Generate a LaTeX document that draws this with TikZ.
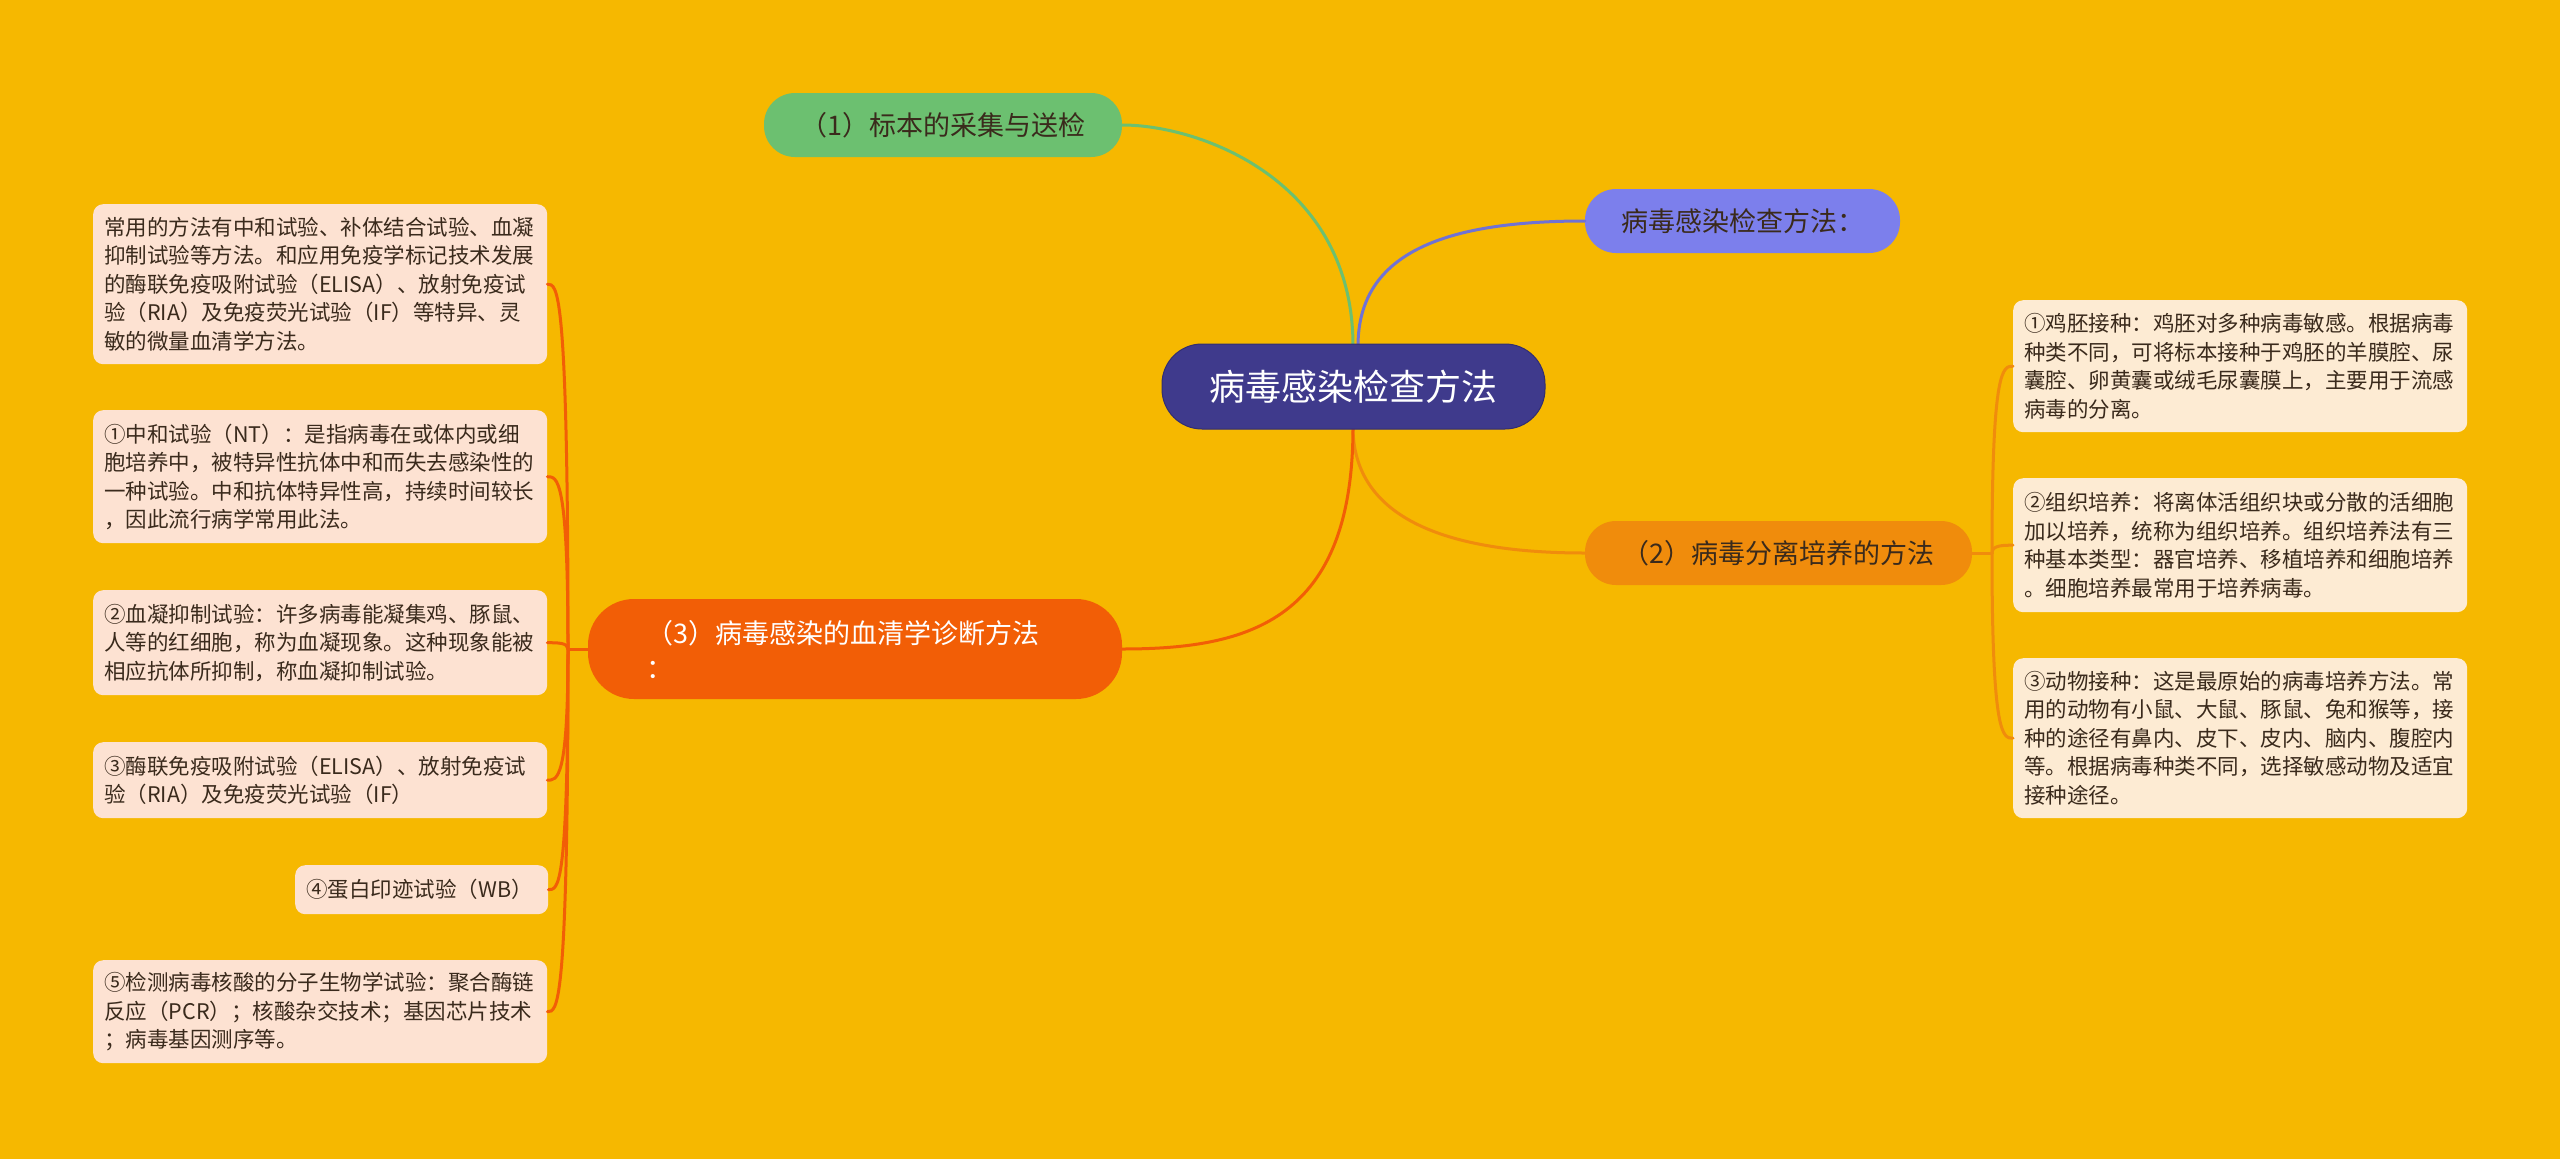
\documentclass[tikz,border=0pt]{standalone}
\usepackage{fontspec}
\setmainfont{Noto Sans CJK SC}
\usetikzlibrary{calc}
\definecolor{bg}{HTML}{F6B800}
\definecolor{cfill}{HTML}{3F3A8C}
\definecolor{gfill}{HTML}{6CC070}
\definecolor{pfill}{HTML}{7C7FEC}
\definecolor{ofill}{HTML}{F08C0C}
\definecolor{rfill}{HTML}{F25E06}
\definecolor{lfill}{HTML}{FDE2D2}
\definecolor{rlfill}{HTML}{FDEBD3}
\definecolor{tdark}{HTML}{3A2A1C}
\begin{document}
\begin{tikzpicture}[x=1pt,y=-1pt,
  topic/.style={rounded corners=31pt, minimum height=64pt, inner sep=0pt, font=\fontsize{27}{35}\selectfont, text=tdark},
  centre/.style={fill=cfill, draw=cfill!80!black, line width=1pt, rounded corners=40pt, minimum width=383pt, minimum height=85pt, inner sep=0pt, text=white, font=\fontsize{36}{40}\selectfont},
  leafbox/.style={rounded corners=10pt, anchor=north west, inner xsep=11pt, inner ysep=0pt, align=left, font=\fontsize{21.5}{28.5}\selectfont, text=tdark},
  leafl/.style={leafbox, fill=lfill},
  leafr/.style={leafbox, fill=rlfill},
  conn/.style={line width=3pt, line cap=round}
]
\useasboundingbox (0,0) rectangle (2560,1159);
\fill[bg] (0,0) rectangle (2560,1159);

\coordinate (ctop) at (1353,346);
\coordinate (cbot) at (1353,427);
\coordinate (ptop) at (1358,346);

% topic nodes
\node[topic, fill=gfill, minimum width=358pt] (n1) at (943,125) {（1）标本的采集与送检};
\node[topic, fill=pfill, minimum width=315pt] (np) at (1742.5,221) {病毒感染检查方法：};
\node[topic, fill=ofill, minimum width=387pt] (n2) at (1778.5,553) {（2）病毒分离培养的方法};
\node[topic, fill=rfill, rounded corners=46pt, minimum width=534pt, minimum height=100pt] (n3) at (855,649) {};
\node[font=\fontsize{27}{35}\selectfont, text=white, align=left, inner sep=0pt] (n3t) at (843,649) {（3）病毒感染的血清学诊断方法\\：};

% left leaves
\node[leafl, text width=432pt, minimum height=160pt] (l0) at (93,204) {常用的方法有中和试验、补体结合试验、血凝\\抑制试验等方法。和应用免疫学标记技术发展\\的酶联免疫吸附试验（ELISA）、放射免疫试\\验（RIA）及免疫荧光试验（IF）等特异、灵\\敏的微量血清学方法。};
\node[leafl, text width=432pt, minimum height=133pt] (l1) at (93,410) {①中和试验（NT）：是指病毒在或体内或细\\胞培养中，被特异性抗体中和而失去感染性的\\一种试验。中和抗体特异性高，持续时间较长\\，因此流行病学常用此法。};
\node[leafl, text width=432pt, minimum height=105pt] (l2) at (93,590) {②血凝抑制试验：许多病毒能凝集鸡、豚鼠、\\人等的红细胞，称为血凝现象。这种现象能被\\相应抗体所抑制，称血凝抑制试验。};
\node[leafl, text width=432pt, minimum height=76pt] (l3) at (93,742) {③酶联免疫吸附试验（ELISA）、放射免疫试\\验（RIA）及免疫荧光试验（IF）};
\node[leafl, text width=231pt, minimum height=49pt] (l4) at (295,865) {④蛋白印迹试验（WB）};
\node[leafl, text width=432pt, minimum height=103pt] (l5) at (93,960) {⑤检测病毒核酸的分子生物学试验：聚合酶链\\反应（PCR）；核酸杂交技术；基因芯片技术\\；病毒基因测序等。};

% right leaves
\node[leafr, text width=432pt, minimum height=132pt] (r1) at (2013,300) {①鸡胚接种：鸡胚对多种病毒敏感。根据病毒\\种类不同，可将标本接种于鸡胚的羊膜腔、尿\\囊腔、卵黄囊或绒毛尿囊膜上，主要用于流感\\病毒的分离。};
\node[leafr, text width=432pt, minimum height=134pt] (r2) at (2013,478) {②组织培养：将离体活组织块或分散的活细胞\\加以培养，统称为组织培养。组织培养法有三\\种基本类型：器官培养、移植培养和细胞培养\\。细胞培养最常用于培养病毒。};
\node[leafr, text width=432pt, minimum height=160pt] (r3) at (2013,658) {③动物接种：这是最原始的病毒培养方法。常\\用的动物有小鼠、大鼠、豚鼠、兔和猴等，接\\种的途径有鼻内、皮下、皮内、脑内、腹腔内\\等。根据病毒种类不同，选择敏感动物及适宜\\接种途径。};

% main connectors
\draw[conn, gfill] (ctop) .. controls (1353,180) and (1200,125) .. (n1.east);
\draw[conn, pfill!90!black] (ptop) .. controls (1358,250) and (1450,221) .. (np.west);
\draw[conn, ofill] (cbot) .. controls (1353,520) and (1450,553) .. (n2.west);
\draw[conn, rfill] (cbot) .. controls (1353,620) and (1250,649) .. (n3.east);

% left leaf connectors
\coordinate (jl) at (568,649);
\draw[conn, rfill] (n3.west) -- (jl);
\foreach \l in {l0,l1,l2,l3,l4,l5}{
  \draw[conn, rfill] (jl) .. controls (jl |- \l.east) and ($(\l.east)+(10,0)$) .. (\l.east);
}

% right leaf connectors
\coordinate (jr) at (1992,553);
\draw[conn, ofill] (n2.east) -- (jr);
\foreach \r in {r1,r2,r3}{
  \draw[conn, ofill] (jr) .. controls (jr |- \r.west) and ($(\r.west)+(-10,0)$) .. (\r.west);
}

% central node on top of connectors
\node[centre] (c) at (1353.5,386.5) {病毒感染检查方法};
\end{tikzpicture}
\end{document}
